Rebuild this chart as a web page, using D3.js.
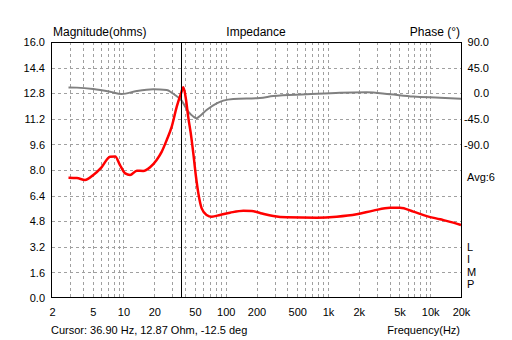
<!DOCTYPE html>
<html>
<head>
<meta charset="utf-8">
<script src="https://cdn.jsdelivr.net/npm/d3@7"></script>
<style>
  html, body { margin: 0; padding: 0; background: #fff; }
  svg { display: block; font-family: "Liberation Sans", Arial, sans-serif; }
  .tick text { fill: #000; }
</style>
</head>
<body>
<svg id="chart" width="512" height="340"></svg>
<script>
// Impedance magnitude (ohms) vs frequency (Hz)
const magFreq = [2.9, 3.5, 4.2, 5.07, 6.1, 7.4, 8.3, 9.25, 10.4, 11.6, 13.5, 15.6, 18.2, 21.1, 23.7, 26.5, 29.6,
  33.2, 36.9, 38.5, 40.9, 43, 45.5, 48.2, 51.2, 54, 58.2, 65, 73, 88, 110, 149, 180, 220, 292, 394, 776,
  1216, 1910, 2774, 4046, 5060, 6836, 9242, 12474, 16820, 20000];
const magOhms = [7.52, 7.5, 7.38, 7.69, 8.17, 8.83, 8.85, 8.31, 7.79, 7.69, 7.96, 7.94, 8.17, 8.63, 9.15, 9.88, 10.7,
  11.96, 12.87, 13.17, 12.4, 11.3, 10.3, 9.04, 7.58, 6.54, 5.6, 5.19, 5.08, 5.19, 5.33, 5.46, 5.44, 5.3, 5.12, 5.04, 5.02,
  5.08, 5.23, 5.46, 5.64, 5.64, 5.4, 5.12, 4.92, 4.71, 4.56];

// Impedance phase (degrees) vs frequency (Hz)
const phaseFreq = [2.9, 3.5, 5.07, 7.4, 9.6, 13.5, 19.6, 26.5, 29.6, 31.9, 36.9, 43, 48.2, 52, 56, 65, 81.6, 94.7,
  118.6, 216, 292, 619, 1311, 2392, 4046, 6836, 12474, 20000];
const phaseDeg = [10, 9.8, 7.4, 2.6, -1.4, 3.9, 6.9, 5.5, 1, -3.2, -12.5, -32.5, -41, -44, -40, -29.5, -17.8, -13,
  -10, -8.4, -5, -2, 0.9, 1.6, -2, -6, -8, -10];

// Axis ticks
const freqTicks = [2, 5, 10, 20, 50, 100, 200, 500, 1000, 2000, 5000, 10000, 20000];
const freqTickLabels = ["2", "5", "10", "20", "50", "100", "200", "500", "1k", "2k", "5k", "10k", "20k"];
const magTicks = [0, 1.6, 3.2, 4.8, 6.4, 8.0, 9.6, 11.2, 12.8, 14.4, 16.0];
const phaseTicks = [90, 45, 0, -45, -90];
const phaseTickLabels = ["90.0", "45.0", "0.0", "-45.0", "-90.0"];

const cursorFreq = 36.90;
const cursorText = "Cursor: 36.90 Hz, 12.87 Ohm, -12.5 deg";
const sideLetters = ["L", "I", "M", "P"];

const svg = d3.select("#chart");
const L = 52, R = 461, T = 42, B = 298;

const x = d3.scaleLog().domain([2, 20000]).range([L, R]);
const y = d3.scaleLinear().domain([0, 16]).range([B, T]);
const yp = d3.scaleLinear().domain([-360, 90]).range([B, T]);

// Grid: vertical lines at every n x 10^k
const gridFreqs = [];
[1, 10, 100, 1000, 10000].forEach(d => {
  for (let n = 1; n <= 9; n++) {
    const f = n * d;
    if (f > 2 && f < 20000) gridFreqs.push(f);
  }
});
const grid = svg.append("g").attr("stroke", "#a0a0a0").attr("stroke-width", 1)
  .attr("stroke-dasharray", "3,3").attr("shape-rendering", "crispEdges");
grid.selectAll("line.v").data(gridFreqs).join("line")
  .attr("class", "v")
  .attr("x1", d => Math.round(x(d)) + 0.5).attr("x2", d => Math.round(x(d)) + 0.5)
  .attr("y1", T).attr("y2", B);
grid.selectAll("line.h").data(magTicks.slice(1, -1)).join("line")
  .attr("class", "h")
  .attr("x1", L).attr("x2", R)
  .attr("y1", d => Math.round(y(d)) + 0.5).attr("y2", d => Math.round(y(d)) + 0.5);

// Curves
const magLine = d3.line().x((d, i) => x(magFreq[i])).y(d => y(d)).curve(d3.curveMonotoneX);
const phaseLine = d3.line().x((d, i) => x(phaseFreq[i])).y(d => yp(d)).curve(d3.curveMonotoneX);

svg.append("path").datum(phaseDeg)
  .attr("fill", "none").attr("stroke", "#808080").attr("stroke-width", 2)
  .attr("d", phaseLine);
svg.append("path").datum(magOhms)
  .attr("fill", "none").attr("stroke", "#ff0000").attr("stroke-width", 2.5)
  .attr("d", magLine);

// Cursor
svg.append("line")
  .attr("x1", Math.round(x(cursorFreq)) + 0.5).attr("x2", Math.round(x(cursorFreq)) + 0.5)
  .attr("y1", T).attr("y2", B)
  .attr("stroke", "#000").attr("stroke-width", 1).attr("shape-rendering", "crispEdges");

// Frame
svg.append("rect")
  .attr("x", L - 0.5).attr("y", T + 0.5).attr("width", R - L + 1).attr("height", B - T - 1)
  .attr("fill", "none").attr("stroke", "#000").attr("stroke-width", 1)
  .attr("shape-rendering", "crispEdges");

// Axes
const xAxis = d3.axisBottom(x).tickValues(freqTicks)
  .tickFormat((d, i) => freqTickLabels[i]).tickSize(0).tickPadding(0);
svg.append("g").attr("transform", `translate(0,${B})`).call(xAxis)
  .call(g => g.select(".domain").remove())
  .selectAll("text").attr("font-size", "11px").attr("dy", null).attr("y", 18);

const yAxis = d3.axisLeft(y).tickValues(magTicks).tickFormat(d3.format(".1f")).tickSize(0).tickPadding(0);
svg.append("g").attr("transform", `translate(${L},0)`).call(yAxis)
  .call(g => g.select(".domain").remove())
  .selectAll("text").attr("font-size", "11px").attr("x", -7).attr("dy", "0.34em");

const pAxis = d3.axisRight(yp).tickValues(phaseTicks)
  .tickFormat((d, i) => phaseTickLabels[i]).tickSize(0).tickPadding(0);
svg.append("g").attr("transform", `translate(${R},0)`).call(pAxis)
  .call(g => g.select(".domain").remove())
  .selectAll("text").attr("font-size", "11px").attr("x", 28).attr("text-anchor", "end").attr("dy", "0.34em");

// Titles
const titleSize = "12px";
svg.append("text").attr("x", 53).attr("y", 36).attr("font-size", titleSize).text("Magnitude(ohms)");
svg.append("text").attr("x", 256).attr("y", 36).attr("font-size", titleSize).attr("text-anchor", "middle").text("Impedance");
svg.append("text").attr("x", 460).attr("y", 36).attr("font-size", titleSize).attr("text-anchor", "end").text("Phase (°)");

// Right side annotations
svg.append("text").attr("x", 467).attr("y", 181).attr("font-size", "11px").text("Avg:6");
svg.selectAll("text.side").data(sideLetters).join("text")
  .attr("class", "side")
  .attr("x", 467).attr("y", (d, i) => 250.5 + i * 12.5)
  .attr("font-size", "11px").text(d => d);

// Bottom text
svg.append("text").attr("x", 51).attr("y", 334).attr("font-size", "11px").text(cursorText);
svg.append("text").attr("x", 460).attr("y", 334).attr("font-size", "11px").attr("text-anchor", "end").text("Frequency(Hz)");
</script>
</body>
</html>
